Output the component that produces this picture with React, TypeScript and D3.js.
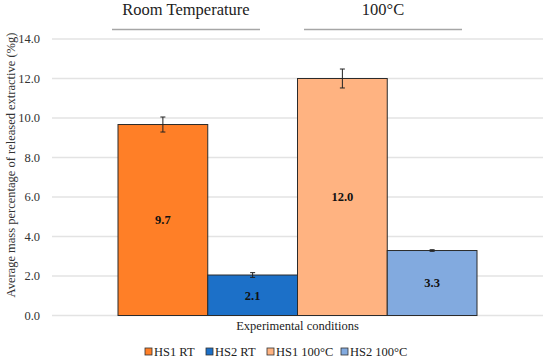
import React from "react";
import * as d3 from "d3";

const categories = ["HS1 RT", "HS2 RT", "HS1 100°C", "HS2 100°C"];
const values = [9.67, 2.05, 12.0, 3.29];
const errors = [0.38, 0.12, 0.48, 0.04];
const labels = ["9.7", "2.1", "12.0", "3.3"];
const colors = ["#FF7F27", "#1C70C8", "#FFB381", "#82AADF"];
const yTicks = [0, 2, 4, 6, 8, 10, 12, 14];
const groupTitles = ["Room Temperature", "100°C"];

const W = 550, H = 362;
const FONT = "Liberation Serif, DejaVu Serif, serif";

export default function App() {
  const plotLeft = 52, plotRight = 543;
  const y = d3.scaleLinear().domain([0, 14]).range([315.5, 39]);
  const x = d3.scaleBand().domain(categories).range([118, 477]).padding(0);
  const bw = x.bandwidth();
  const legendX = [145, 206, 267, 341];
  const ts = (size: number, weight: string = "normal") => ({ fontFamily: FONT, fontSize: size, fontWeight: weight });

  return (
    <svg width={W} height={H} style={{ position: "absolute", left: 0, top: 0, background: "#fff" }}>
      {yTicks.map((t) => (
        <g key={t}>
          <line x1={plotLeft} x2={plotRight} y1={y(t)} y2={y(t)} stroke="#e3e3e3" strokeWidth={1.3} />
          <text x={40} y={y(t)} dy="0.35em" textAnchor="end" style={ts(12.5)} fill="#333">
            {t.toFixed(1)}
          </text>
        </g>
      ))}
      {categories.map((c, i) => (
        <g key={c}>
          <rect x={x(c)!} y={y(values[i])} width={bw} height={y(0) - y(values[i])}
            fill={colors[i]} stroke="#2b2b2b" strokeWidth={1} />
          <line x1={x(c)! + bw / 2} x2={x(c)! + bw / 2} y1={y(values[i] + errors[i])} y2={y(values[i] - errors[i])}
            stroke="#222" strokeWidth={1} />
          <line x1={x(c)! + bw / 2 - 2.5} x2={x(c)! + bw / 2 + 2.5} y1={y(values[i] + errors[i])} y2={y(values[i] + errors[i])}
            stroke="#222" strokeWidth={1} />
          <line x1={x(c)! + bw / 2 - 2.5} x2={x(c)! + bw / 2 + 2.5} y1={y(values[i] - errors[i])} y2={y(values[i] - errors[i])}
            stroke="#222" strokeWidth={1} />
          <text x={x(c)! + bw / 2} y={(y(values[i]) + y(0)) / 2} dy="0.35em" textAnchor="middle"
            style={ts(12.5, "bold")} fill="#111">
            {labels[i]}
          </text>
        </g>
      ))}
      <text x={186} y={15} textAnchor="middle" style={ts(16.5)} fill="#222">{groupTitles[0]}</text>
      <line x1={112} x2={260} y1={29.5} y2={29.5} stroke="#a6a6a6" strokeWidth={1.5} />
      <text x={383} y={15} textAnchor="middle" style={ts(16.5)} fill="#222">{groupTitles[1]}</text>
      <line x1={304} x2={462} y1={29.5} y2={29.5} stroke="#a6a6a6" strokeWidth={1.5} />
      <text transform={`translate(11,165) rotate(-90)`} textAnchor="middle" dy="0.35em"
        style={ts(12.5)} fill="#333">
        Average mass percentage of released extractive (%g)
      </text>
      <text x={297.5} y={326} dy="0.35em" textAnchor="middle" style={ts(12.5)} fill="#222">Experimental conditions</text>
      {categories.map((c, i) => (
        <g key={c}>
          <rect x={legendX[i]} y={348} width={7} height={7} fill={colors[i]} stroke="#333" strokeWidth={0.8} />
          <text x={legendX[i] + 9} y={352} dy="0.35em" style={ts(12.5)} fill="#222">{c}</text>
        </g>
      ))}
    </svg>
  );
}
